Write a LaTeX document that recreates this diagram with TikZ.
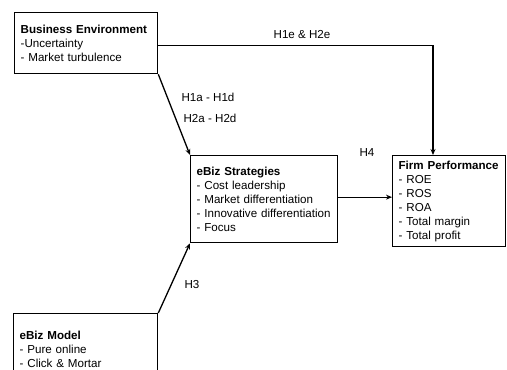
\documentclass[tikz,border=0pt]{standalone}
\usepackage{fontspec}
\setmainfont{Liberation Sans}
\usetikzlibrary{arrows.meta,calc}
\tikzset{
  box/.style={draw, line width=1.3pt, anchor=north west, align=left, inner xsep=6pt, inner ysep=0pt,
    font=\fontsize{11.6}{14}\selectfont},
  lbl/.style={inner sep=1pt, font=\fontsize{11.6}{14}\selectfont},
  conn/.style={line width=1.3pt},
  arr/.style={conn, -{Stealth[length=6pt,width=5pt]}}
}
\begin{document}
\begin{tikzpicture}[x=1pt,y=-1pt]
\useasboundingbox (0,0) rectangle (507,370);
\begin{scope}
\clip (0,0) rectangle (507,370);
\node[box, text width=131pt, minimum width=143pt, minimum height=61pt] (be) at (14,12)
  {\textbf{Business Environment}\\-Uncertainty\\- Market turbulence};
\node[box, text width=135pt, minimum width=147pt, minimum height=87pt] (st) at (190,155)
  {\textbf{eBiz Strategies}\\- Cost leadership\\- Market differentiation\\- Innovative differentiation\\- Focus};
\node[box, text width=101pt, minimum width=113pt, minimum height=91pt] (fp) at (392,155)
  {\textbf{Firm Performance}\\- ROE\\- ROS\\- ROA\\- Total margin\\- Total profit};
\node[box, text width=132pt, minimum width=144pt, minimum height=72pt] (bm) at (13,313)
  {\textbf{eBiz Model}\\- Pure online\\- Click \& Mortar};

\coordinate (tgt) at ([xshift=41pt]fp.north west);
\draw[arr] ([yshift=-2.5pt]be.east) -| (tgt);
\draw[arr] (be.south east) -- (st.north west);
\draw[arr] (bm.north east) -- (st.south west);
\draw[arr] ([yshift=2pt]st.east) -- ([yshift=2pt]st.east -| fp.west);

\node[lbl] (l1) at (302,35) {H1e \& H2e};
\node[lbl] (l2) at (208,97) {H1a - H1d};
\node[lbl] (l3) at (210,118) {H2a - H2d};
\node[lbl] (l4) at (367,153) {H4};
\node[lbl] (l5) at (192,285) {H3};
\end{scope}
\end{tikzpicture}
\end{document}
